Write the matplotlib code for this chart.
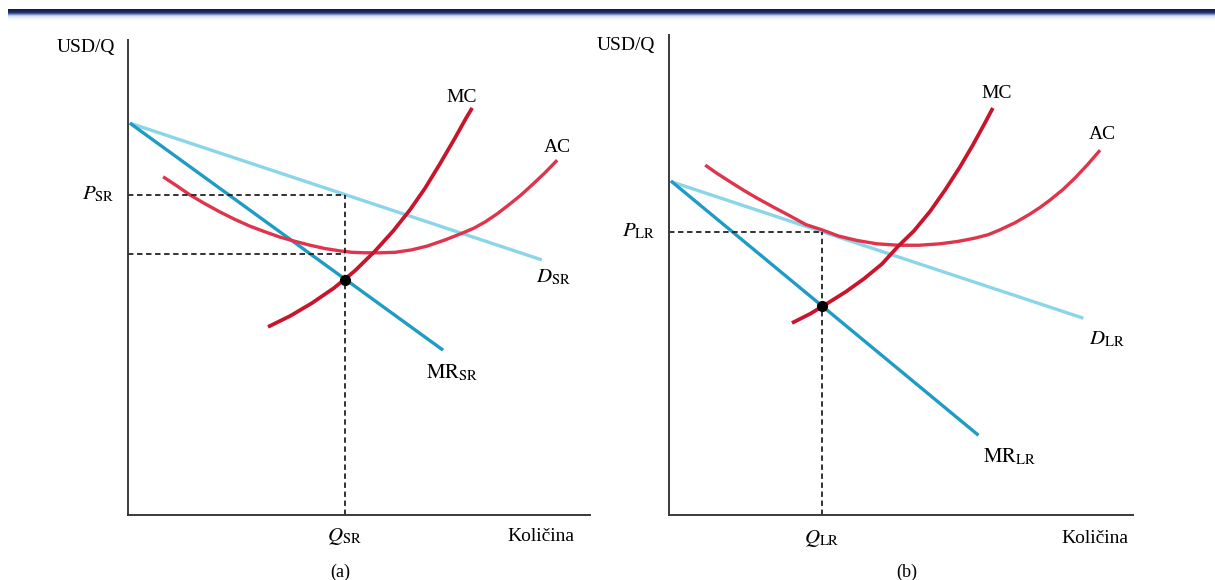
import numpy as np
import matplotlib
matplotlib.use('Agg')
import matplotlib.pyplot as plt

plt.rcParams['mathtext.fontset'] = 'stix'
plt.rcParams['font.family'] = ['Liberation Serif', 'DejaVu Serif']

# ---- panel (a): short run -------------------------------------------
d_sr_q = [0.04, 8.96]
d_sr_p = [8.25, 5.37]
mr_sr_q = [0.04, 6.82]
mr_sr_p = [8.25, 3.47]
mc_a_q = [3.03, 3.51, 3.98, 4.46, 4.91, 5.35, 5.74, 6.10, 6.43, 6.75, 7.08, 7.32, 7.45]
mc_a_p = [3.96, 4.19, 4.46, 4.78, 5.14, 5.56, 5.98, 6.42, 6.88, 7.39, 7.94, 8.36, 8.57]
ac_a_q = [0.76, 1.04, 1.34, 1.67, 1.99, 2.32, 2.64, 2.97, 3.29, 3.62, 3.94, 4.26, 4.59,
          4.85, 5.13, 5.46, 5.78, 6.13, 6.47, 6.86, 7.25, 7.49, 7.73, 7.99, 8.27, 8.51,
          8.77, 9.03, 9.29]
ac_a_p = [7.12, 6.94, 6.74, 6.55, 6.38, 6.22, 6.08, 5.96, 5.85, 5.76, 5.68, 5.61, 5.56,
          5.53, 5.52, 5.52, 5.53, 5.58, 5.66, 5.79, 5.94, 6.04, 6.17, 6.34, 6.55, 6.74,
          6.97, 7.21, 7.47]
q_sr = 4.69
p_sr = 6.74
ac_sr = 5.50
mr_at_q_sr = 4.95

# ---- panel (b): long run --------------------------------------------
d_lr_q = [0.06, 8.93]
d_lr_p = [6.94, 4.10]
mr_lr_q = [0.04, 6.67]
mr_lr_p = [6.96, 1.66]
mc_b_q = [2.65, 3.04, 3.43, 3.81, 4.20, 4.59, 4.94, 5.28, 5.63, 5.95, 6.27, 6.55, 6.81, 6.98]
mc_b_p = [4.00, 4.19, 4.42, 4.65, 4.92, 5.23, 5.60, 5.92, 6.33, 6.77, 7.25, 7.71, 8.17, 8.48]
ac_b_q = [0.78, 1.03, 1.32, 1.60, 1.90, 2.24, 2.61, 2.95, 3.30, 3.66, 4.05, 4.48, 4.94,
          5.39, 5.84, 6.23, 6.60, 6.88, 7.13, 7.46, 7.78, 8.00, 8.21, 8.49, 8.75, 9.03, 9.29]
ac_b_p = [7.29, 7.12, 6.94, 6.77, 6.60, 6.42, 6.23, 6.05, 5.94, 5.81, 5.72, 5.65, 5.62,
          5.62, 5.65, 5.70, 5.77, 5.84, 5.94, 6.09, 6.27, 6.41, 6.56, 6.78, 7.02, 7.31, 7.60]
q_lr = 3.29
p_lr = 5.90
mr_at_q_lr = 4.36

c_demand = '#8ad6e8'
c_mr = '#1f9cc6'
c_mc = '#c8142c'
c_ac = '#e0344c'
c_axis = '#3a3a3a'
c_dash = '#222222'

fig = plt.figure(figsize=(12.15, 5.8), dpi=100)

# header band at the top
band = fig.add_axes([8/1215, 1 - 21/580, 1 - 8/1215, 12/580])
rows = np.array([[15, 28, 85], [18, 32, 92], [25, 40, 100], [40, 55, 115],
                 [70, 88, 140], [130, 148, 190], [185, 200, 228], [215, 226, 242],
                 [232, 238, 248], [242, 245, 251], [248, 250, 253], [253, 253, 254]]) / 255
band.imshow(rows[:, None, :], aspect='auto', interpolation='bilinear')
band.axis('off')


def setup(ax):
    ax.set_xlim(0, 10)
    ax.set_ylim(0, 10)
    for s in ['top', 'right']:
        ax.spines[s].set_visible(False)
    for s in ['left', 'bottom']:
        ax.spines[s].set_color(c_axis)
        ax.spines[s].set_linewidth(1.4)
    ax.set_xticks([])
    ax.set_yticks([])
    ax.patch.set_alpha(0)


lw = 2.4
fs = 14
dash = (0, (3, 2))

# ===================== (a) =====================
ax1 = fig.add_axes([128/1215, 65/580, 462/1215, 475/580])
setup(ax1)
ax1.plot(d_sr_q, d_sr_p, color=c_demand, lw=lw, solid_capstyle='butt')
ax1.plot(mr_sr_q, mr_sr_p, color=c_mr, lw=lw, solid_capstyle='butt')
ax1.plot(ac_a_q, ac_a_p, color=c_ac, lw=lw, solid_joinstyle='round', solid_capstyle='butt')
ax1.plot(mc_a_q, mc_a_p, color=c_mc, lw=lw + 0.3, solid_joinstyle='round', solid_capstyle='butt')
ax1.plot([0, q_sr], [p_sr, p_sr], ls=dash, color=c_dash, lw=1.3)
ax1.plot([0, q_sr], [ac_sr, ac_sr], ls=dash, color=c_dash, lw=1.3)
ax1.plot([q_sr, q_sr], [0, p_sr], ls=dash, color=c_dash, lw=1.3)
ax1.plot([q_sr], [mr_at_q_sr], 'o', color='black', ms=7)

ax1.text(7.23, 8.78, 'MC', fontsize=fs, ha='center', va='center')
ax1.text(9.29, 7.73, 'AC', fontsize=fs, ha='center', va='center')
ax1.text(9.20, 5.01, r'$D_{\mathrm{SR}}$', fontsize=fs + 1, ha='center', va='center')
ax1.text(7.03, 2.99, r'$\mathrm{MR}_{\mathrm{SR}}$', fontsize=fs + 1, ha='center', va='center')
ax1.text(-0.3, p_sr, r'$P_{\mathrm{SR}}$', fontsize=fs + 1, ha='right', va='center')
ax1.text(-0.28, 9.85, 'USD/Q', fontsize=14, ha='right', va='center')
ax1.text(q_sr, -0.45, r'$Q_{\mathrm{SR}}$', fontsize=fs + 1, ha='center', va='center')
ax1.text(8.94, -0.45, 'Količina', fontsize=fs, ha='center', va='center')
ax1.text(4.59, -1.2, '(a)', fontsize=13, ha='center', va='center')

# ===================== (b) =====================
ax2 = fig.add_axes([669/1215, 65/580, 464/1215, 480/580])
setup(ax2)
ax2.plot(d_lr_q, d_lr_p, color=c_demand, lw=lw, solid_capstyle='butt')
ax2.plot(mr_lr_q, mr_lr_p, color=c_mr, lw=lw, solid_capstyle='butt')
ax2.plot(ac_b_q, ac_b_p, color=c_ac, lw=lw, solid_joinstyle='round', solid_capstyle='butt')
ax2.plot(mc_b_q, mc_b_p, color=c_mc, lw=lw + 0.3, solid_joinstyle='round', solid_capstyle='butt')
ax2.plot([0, q_lr], [p_lr, p_lr], ls=dash, color=c_dash, lw=1.3)
ax2.plot([q_lr, q_lr], [0, p_lr], ls=dash, color=c_dash, lw=1.3)
ax2.plot([q_lr], [mr_at_q_lr], 'o', color='black', ms=7)

ax2.text(7.07, 8.79, 'MC', fontsize=fs, ha='center', va='center')
ax2.text(9.35, 7.92, 'AC', fontsize=fs, ha='center', va='center')
ax2.text(9.44, 3.65, r'$D_{\mathrm{LR}}$', fontsize=fs + 1, ha='center', va='center')
ax2.text(7.35, 1.21, r'$\mathrm{MR}_{\mathrm{LR}}$', fontsize=fs + 1, ha='center', va='center')
ax2.text(-0.3, p_lr, r'$P_{\mathrm{LR}}$', fontsize=fs + 1, ha='right', va='center')
ax2.text(-0.3, 9.79, 'USD/Q', fontsize=14, ha='right', va='center')
ax2.text(q_lr, -0.48, r'$Q_{\mathrm{LR}}$', fontsize=fs + 1, ha='center', va='center')
ax2.text(9.18, -0.48, 'Količina', fontsize=fs, ha='center', va='center')
ax2.text(5.13, -1.19, '(b)', fontsize=13, ha='center', va='center')

fig.savefig('out.png', dpi=100)
